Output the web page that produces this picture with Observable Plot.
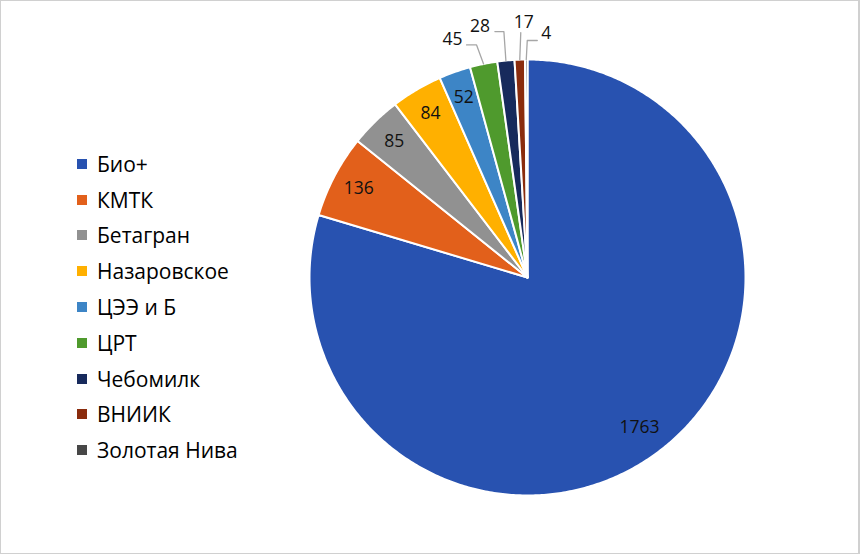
<!DOCTYPE html>
<html>
<head>
<meta charset="utf-8">
<script src="https://cdn.jsdelivr.net/npm/d3@7"></script>
<script src="https://cdn.jsdelivr.net/npm/@observablehq/plot@0.6"></script>
<style>
  html, body { margin: 0; padding: 0; background: #fff; }
  #wrap { position: relative; width: 860px; height: 555px; font-family: "Open Sans", Lato, sans-serif; }
  #frame { position: absolute; left: 0; top: 0; width: 857px; height: 552px; border: 1px solid #D0D0D0; border-right-width: 2px; pointer-events: none; }
  #legend { position: absolute; left: 77px; top: 146px; }
  .item { display: flex; align-items: center; height: 35.8px; font-size: 21px; color: #000; white-space: nowrap; }
  .sw { width: 10px; height: 10px; margin-right: 10px; }
</style>
</head>
<body>
<div id="wrap"><div id="chart"></div><div id="legend"></div><div id="frame"></div></div>
<script>
// ---- data ----
const names  = ["Био+", "КМТК", "Бетагран", "Назаровское", "ЦЭЭ и Б", "ЦРТ", "Чебомилк", "ВНИИК", "Золотая Нива"];
const values = [1763, 136, 85, 84, 52, 45, 28, 17, 4];
const colors = ["#2852B0", "#E2601B", "#919191", "#FFB000", "#3D85C6", "#4F9A2D", "#172A5C", "#8A2C0D", "#474747"];

// ---- layout (styling only) ----
const CX = 527, CY = 277, R = 218;
// callouts for small slices: pixel offsets from the slice's outer-edge midpoint
const callouts = {
  "ЦРТ":          {text: [-31, -25], elbow: [-7, -19],  end: [-17, -19]},
  "Чебомилк":     {text: [-26, -34], elbow: [-2, -29],  end: [-11, -29]},
  "ВНИИК":        {text: [4, -37],   elbow: [1, -27],   end: [1, -27]},
  "Золотая Нива": {text: [20, -26],  elbow: [1, -19],   end: [11, -19]}
};
const px = R; // pixels per data unit

const pie = d3.pie().sort(null).value(d => d.value);
const table = names.map((n, i) => ({name: n, value: values[i], color: colors[i]}));
const arcs = pie(table);

// polygon points for each slice (angles clockwise from 12 o'clock)
const slicePts = [];
for (const a of arcs) {
  const n = Math.max(2, Math.ceil((a.endAngle - a.startAngle) / 0.01));
  slicePts.push({name: a.data.name, x: 0, y: 0});
  for (let k = 0; k <= n; k++) {
    const t = a.startAngle + (a.endAngle - a.startAngle) * k / n;
    slicePts.push({name: a.data.name, x: Math.sin(t), y: Math.cos(t)});
  }
  slicePts.push({name: a.data.name, x: 0, y: 0});
}

const inside = [], outside = [], leaders = [];
for (const a of arcs) {
  const mid = (a.startAngle + a.endAngle) / 2;
  const c = callouts[a.data.name];
  if (!c) {
    const rr = a.data.value > 1000 ? 0.86 : 0.875;
    inside.push({label: String(a.data.value), x: rr * Math.sin(mid), y: rr * Math.cos(mid)});
  } else {
    const ex = Math.sin(mid), ey = Math.cos(mid);
    outside.push({label: String(a.data.value), x: ex + c.text[0] / px, y: ey - c.text[1] / px});
    leaders.push({name: a.data.name, x: ex, y: ey});
    leaders.push({name: a.data.name, x: ex + c.elbow[0] / px, y: ey - c.elbow[1] / px});
    leaders.push({name: a.data.name, x: ex + c.end[0] / px, y: ey - c.end[1] / px});
  }
}

const chart = Plot.plot({
  width: 860,
  height: 555,
  margin: 0,
  style: {fontFamily: "'Open Sans', Lato, sans-serif", background: "transparent"},
  x: {domain: [-1, 1], range: [CX - R, CX + R], axis: null},
  y: {domain: [-1, 1], range: [CY + R, CY - R], axis: null},
  color: {domain: names, range: colors},
  marks: [
    Plot.line(slicePts, {x: "x", y: "y", z: "name", fill: "name", stroke: "white", strokeWidth: 2, curve: "linear"}),
    Plot.line(leaders, {x: "x", y: "y", z: "name", stroke: "#A6A6A6", strokeWidth: 1.3}),
    Plot.text(inside, {x: "x", y: "y", text: "label", fontSize: 17.5, fill: "#111"}),
    Plot.text(outside, {x: "x", y: "y", text: "label", fontSize: 17.5, fill: "#111"})
  ]
});
document.getElementById("chart").appendChild(chart);

const legend = d3.select("#legend");
table.forEach(d => {
  const it = legend.append("div").attr("class", "item");
  it.append("div").attr("class", "sw").style("background", d.color);
  it.append("span").text(d.name);
});
</script>
</body>
</html>
